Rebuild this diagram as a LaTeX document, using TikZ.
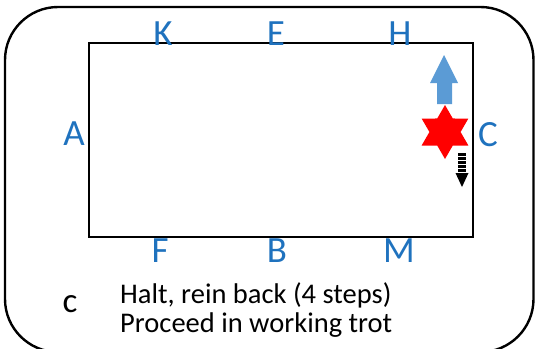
\documentclass[tikz,border=0pt]{standalone}
\usepackage{fontspec}
\setmainfont{Carlito}
\usetikzlibrary{shapes.geometric}
\definecolor{letterblue}{RGB}{31,114,190}
\definecolor{arrowblue}{RGB}{91,155,213}
\tikzset{
  marker/.style={text=letterblue, font=\fontsize{37}{40}\selectfont, inner sep=0pt, anchor=base},
  note/.style={text=black, font=\fontsize{28.5}{31}\selectfont, inner sep=0pt, anchor=base west},
  frame/.style={draw=black, line width=2.4pt, rounded corners=53pt},
  arena/.style={draw=black, line width=2pt, inner sep=0pt, minimum width=384pt, minimum height=194pt}
}
\begin{document}
\begin{tikzpicture}[x=1pt,y=-1pt]
\useasboundingbox (0,0) rectangle (535,348);
\begin{scope}
\clip (0,0) rectangle (535,348);
\draw[frame] (5,7) rectangle (533.5,352);
\end{scope}
\node[arena] (arena) at (281,140) {};
% letters
\node[marker] (K) at (163,45) {K};
\node[marker] (E) at (276,45) {E};
\node[marker] (H) at (400,45) {H};
\node[marker] (F) at (160,262) {F};
\node[marker] (B) at (277,262) {B};
\node[marker] (M) at (399,262) {M};
\node[marker] (A) at (74,145) {A};
\node[marker] (C) at (488,146) {C};
% blue arrow up
\fill[arrowblue] (437,104) -- (437,83) -- (430,83) -- (444,55) -- (458,83) -- (452,83) -- (452,104) -- cycle;
% red star
\node[star, star points=6, star point ratio=1.732, fill=red, draw=none, minimum size=54pt, inner sep=0pt] (star) at (445,132) {};
% striped black arrow down
\foreach \y in {153,157,161,165,169} {
  \fill[black] (458,\y) rectangle (466,\y+2.6);
}
\fill[black] (455.5,173) -- (468.5,173) -- (462,187) -- cycle;
% notes
\node[note, anchor=base, font=\fontsize{35}{38}\selectfont] (c) at (70,312) {c};
\node[note] (l1) at (120,303) {Halt, rein back (4 steps)};
\node[note] (l2) at (120,332) {Proceed in working trot};
\end{tikzpicture}
\end{document}
